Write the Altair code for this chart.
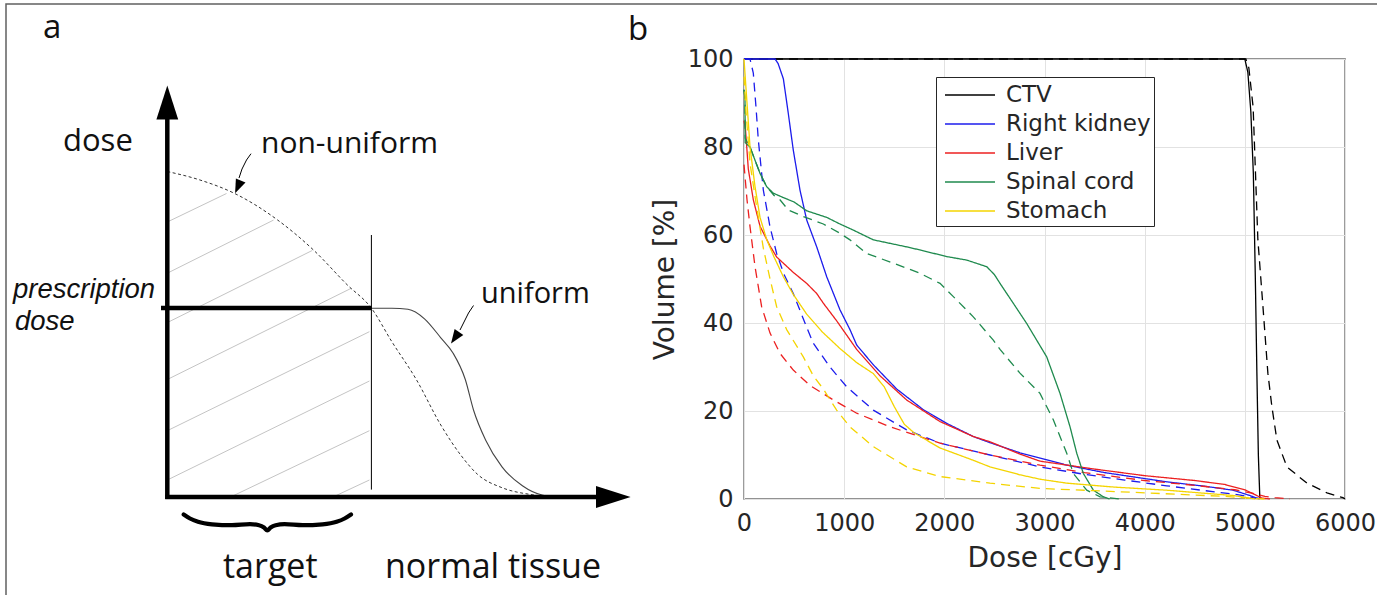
import altair as alt
import pandas as pd

# ---------------- Panel b: dose-volume histograms ----------------
organs = ["CTV", "Right kidney", "Liver", "Spinal cord", "Stomach"]
organ_colors = ["#000000", "#1c1cec", "#ec2020", "#1f8a4e", "#f4d400"]
x_ticks = [0, 1000, 2000, 3000, 4000, 5000, 6000]
y_ticks = [0, 20, 40, 60, 80, 100]

# plan A = solid, plan B = dashed
ctv_a_dose = [0, 5000, 5030, 5060, 5085, 5105, 5120, 5135, 5150]
ctv_a_vol = [100, 100, 97, 88, 74, 50, 29, 10, 0]
ctv_b_dose = [0, 5010, 5040, 5083, 5130, 5180, 5230, 5270, 5320, 5420, 5620, 5820, 5980, 6000]
ctv_b_vol = [100, 100, 98, 89, 59, 44, 28.6, 21, 13.4, 7.3, 3.6, 1.4, 0.3, 0]

kidney_a_dose = [0, 310, 340, 393, 440, 492, 559, 626, 726, 826, 958, 1058, 1125, 1291, 1524, 1790,
                 2023, 2289, 2456, 2755, 2955, 3222, 3600, 4220, 4600, 4882, 5050, 5120, 5150]
kidney_a_vol = [100, 100, 99, 95.5, 88, 79.3, 70.2, 63.4, 57.3, 50.5, 43, 38.5, 35, 30.5, 25, 20.3,
                17.2, 14.2, 12.8, 10.5, 9.3, 7.7, 6, 3.9, 2.9, 2, 0.8, 0.2, 0]
kidney_b_dose = [0, 60, 93, 120, 143, 193, 260, 326, 400, 492, 626, 692, 858, 1025, 1291, 1624, 1957,
                 2456, 2955, 3400, 3800, 4220, 4600, 4955, 5100, 5200]
kidney_b_vol = [100, 100, 96.8, 89, 81.6, 70.2, 61.8, 55.8, 51, 46.7, 39, 35.4, 30, 25.5, 20.2, 15.7,
                12.7, 10, 7.3, 5.6, 4.3, 3, 1.9, 0.9, 0.2, 0]

liver_a_dose = [0, 15, 43, 93, 160, 260, 326, 492, 626, 726, 792, 925, 1125, 1358, 1624, 1957, 2289,
                2456, 2755, 2955, 3500, 4000, 4500, 4800, 5000, 5100, 5170, 5250]
liver_a_vol = [86, 84, 75, 68, 62, 57.5, 55, 51.5, 49, 46.7, 44.5, 40.5, 34, 28, 22.5, 17.6, 14.2,
               13, 10.2, 8.6, 6.8, 5.3, 4.2, 3.3, 2.1, 1, 0.2, 0]
liver_b_dose = [0, 30, 60, 110, 176, 260, 359, 492, 659, 892, 1125, 1458, 1957, 2456, 2955, 3400,
                4000, 4500, 4900, 5100, 5200, 5300, 5450]
liver_b_vol = [76, 68, 61.9, 52.8, 43.7, 37.7, 33.1, 29.3, 25.8, 22.5, 19.5, 16.4, 12.7, 10, 7.7, 6,
               4.2, 3.1, 2.1, 1.2, 0.6, 0.3, 0]

cord_a_dose = [0, 10, 12, 60, 110, 160, 226, 293, 393, 500, 626, 826, 958, 1092, 1291, 1624, 1757,
               2023, 2223, 2423, 2500, 2556, 2688, 2822, 3022, 3155, 3255, 3322, 3388, 3488, 3588, 3650]
cord_a_vol = [93, 91, 81, 80, 77, 74, 71, 69.5, 68.5, 67.5, 65.5, 64, 62.5, 61.1, 58.9, 57.3, 56.6,
              55.1, 54.3, 52.8, 51, 49, 44.5, 39.9, 32.3, 24, 16.4, 10.4, 5.8, 2, 0.5, 0]
cord_b_dose = [0, 10, 12, 60, 110, 160, 226, 300, 359, 442, 592, 792, 958, 1058, 1225, 1491, 1757,
               1957, 2090, 2289, 2489, 2556, 2755, 2955, 3088, 3222, 3288, 3422, 3555, 3750]
cord_b_vol = [93, 91, 82, 80, 77, 74, 71, 69, 68, 65.7, 64.2, 62.5, 60.4, 58.9, 55.8, 53.6, 51.3,
              49, 46, 41.4, 36.1, 34, 28.6, 24, 18, 10.4, 5.8, 2, 0.5, 0]

stomach_a_dose = [0, 30, 60, 110, 160, 226, 300, 393, 492, 626, 780, 958, 1125, 1291, 1400, 1500,
                  1600, 1700, 1957, 2289, 2456, 2755, 2955, 3222, 3700, 4220, 4600, 4882, 5050, 5100]
stomach_a_vol = [100, 90, 80, 71, 64, 59, 55, 50.5, 46.5, 42, 38, 34.2, 31, 28.5, 25.5, 21, 17, 15,
                 11.6, 8.8, 7.3, 5.5, 4.5, 3.6, 2.7, 2, 1.3, 0.8, 0.2, 0]
stomach_b_dose = [0, 20, 60, 126, 193, 260, 326, 426, 592, 692, 792, 925, 1058, 1291, 1624, 1957,
                  2456, 2955, 3500, 4200, 4800, 5100, 5200]
stomach_b_vol = [96, 88, 76.3, 66.4, 57, 50, 43.7, 38.5, 32.3, 28, 25, 20.2, 16.4, 11.9, 7.3, 5.1,
                 3.6, 2.4, 1.9, 1.2, 0.6, 0.1, 0]

curves = [
    ("CTV", "A", ctv_a_dose, ctv_a_vol), ("CTV", "B", ctv_b_dose, ctv_b_vol),
    ("Right kidney", "A", kidney_a_dose, kidney_a_vol), ("Right kidney", "B", kidney_b_dose, kidney_b_vol),
    ("Liver", "A", liver_a_dose, liver_a_vol), ("Liver", "B", liver_b_dose, liver_b_vol),
    ("Spinal cord", "A", cord_a_dose, cord_a_vol), ("Spinal cord", "B", cord_b_dose, cord_b_vol),
    ("Stomach", "A", stomach_a_dose, stomach_a_vol), ("Stomach", "B", stomach_b_dose, stomach_b_vol),
]
rows = []
for organ, plan, ds, vs in curves:
    for i, (d, v) in enumerate(zip(ds, vs)):
        rows.append({"organ": organ, "plan": plan, "dose": d, "volume": v, "i": i})
dvh = pd.DataFrame(rows)

# ---------------- Panel a: schematic (drawing units) ----------------
seg_axes = [
    ("yaxis", [167.3, 167.3], [499, 118]),
    ("xaxis", [165.2, 598], [497, 497]),
    ("presc", [161, 371.4], [308, 308]),
]
seg_boundary = [("bound", [371.4, 371.4], [235, 489.6])]
hatch_x0 = [167.3, 167.3, 167.3, 167.3, 167.3, 167.3, 230.6, 333]
hatch_y0 = [222, 273.2, 322.6, 379.5, 430.7, 480, 497, 497]
hatch_x1 = [226.5, 273.5, 312.2, 351, 369.4, 369.4, 369.4, 369.4]
hatch_y1 = [193.5, 220.1, 250.5, 288.4, 331.7, 381, 430.7, 480]
nonuni_x = [167.3, 200, 234.7, 277.6, 314, 347, 371.4, 391.8, 416.3, 440.8, 461, 477.6, 502, 530.6, 555]
nonuni_y = [171.5, 180, 193.5, 220, 250.5, 284.6, 308.2, 341.6, 379.5, 425, 455.4, 474.4, 487.7, 494.5, 497]
uni_x = [371.4, 391.8, 408, 424.5, 440.8, 453, 465.3, 473.5, 485.7, 502, 522.4, 542.9, 559]
uni_y = [308.2, 308.2, 309.3, 318.8, 337.8, 353, 379.5, 410, 440.2, 466.8, 485.8, 495.3, 497]
arrow_lines = [
    ("arr1", [251, 246.5, 242, 239], [153.7, 160, 169, 178]),
    ("arr2", [473.5, 468.5, 464, 460], [305.5, 313, 322, 330]),
]
brace_x = [183.7, 190, 198, 212, 232, 250, 259, 264, 267.3, 270.6, 275.6, 284.6, 302.6, 322.6, 336.6, 344.6, 351]
brace_y = [514.5, 518.5, 521.8, 524.3, 525.2, 524.2, 525.2, 527.5, 530.5, 527.5, 525.2, 524.2, 525.2, 524.3, 521.8, 518.5, 514.5]
frame_x = [6, 6, 1390]
frame_y = [600, 4, 4]

big_heads_x = [167.3, 613.3]
big_heads_y = [102.5, 497]
big_heads_angle = [0, 90]
big_heads_size = [1163, 1197]
small_heads_x = [237.9, 455]
small_heads_y = [186.9, 337.7]
small_heads_angle = [203.6, 214.6]

text_labels = ["a", "b", "dose", "non-uniform", "uniform", "target", "normal tissue"]
text_x = [43, 628, 63, 261, 481, 223, 385]
text_y = [38, 40, 151, 153, 303, 578, 578]
text_size = [33, 33, 31, 30, 29, 34, 34]
italic_labels = ["prescription", "dose"]
italic_x = [13, 15]
italic_y = [298, 330]


def seg_frame(segs):
    out = []
    for name, xs, ys in segs:
        for i, (x, y) in enumerate(zip(xs, ys)):
            out.append({"seg": name, "x": x, "y": y, "i": i})
    return pd.DataFrame(out)


hatch_segs = [(f"h{k}", [hatch_x0[k], hatch_x1[k]], [hatch_y0[k], hatch_y1[k]]) for k in range(len(hatch_x0))]

XA = alt.X("x:Q", scale=alt.Scale(domain=[0, 1377], range=[-744, 633], nice=False, zero=False), axis=None)
YA = alt.Y("y:Q", scale=alt.Scale(domain=[0, 595], range=[-59, 536], nice=False, zero=False), axis=None)


def seg_layer(segs, color, width, dash=None, interp="linear", cap="butt"):
    kw = dict(color=color, strokeWidth=width, interpolate=interp, strokeCap=cap)
    if dash:
        kw["strokeDash"] = dash
    return alt.Chart(seg_frame(segs)).mark_line(**kw).encode(
        x=XA, y=YA, detail="seg:N", order="i:Q")


frame_layer = seg_layer([("frame", frame_x, frame_y)], "#606060", 1.5)
hatch_layer = seg_layer(hatch_segs, "#c4c4c4", 1)
nonuni_layer = seg_layer([("nonuni", nonuni_x, nonuni_y)], "#333333", 1, dash=[3, 2.5], interp="monotone")
uni_layer = seg_layer([("uni", uni_x, uni_y)], "#444444", 1.1, interp="monotone")
bound_layer = seg_layer(seg_boundary, "#000000", 1)
axes_layer = seg_layer(seg_axes, "#000000", 4.5)
arrow_layer = seg_layer(arrow_lines, "#000000", 1)
brace_layer = seg_layer([("brace", brace_x, brace_y)], "#000000", 4.2, interp="monotone", cap="round")

big_heads = alt.Chart(pd.DataFrame({"x": big_heads_x, "y": big_heads_y, "a": big_heads_angle,
                                    "s": big_heads_size})).mark_point(
    shape="M0,-1L0.64,1L-0.64,1Z", filled=True, color="#000000", opacity=1, strokeWidth=0).encode(
    x=XA, y=YA, angle=alt.Angle("a:Q", scale=None), size=alt.Size("s:Q", scale=None))
small_heads = alt.Chart(pd.DataFrame({"x": small_heads_x, "y": small_heads_y,
                                      "a": small_heads_angle})).mark_point(
    shape="M0,-1L0.75,1L-0.75,1Z", filled=True, color="#000000", opacity=1, strokeWidth=0, size=196).encode(
    x=XA, y=YA, angle=alt.Angle("a:Q", scale=None))

text_layer = alt.Chart(pd.DataFrame({"x": text_x, "y": text_y, "label": text_labels,
                                     "fs": text_size})).mark_text(
    align="left", baseline="alphabetic", font="Open Sans", color="#111111").encode(
    x=XA, y=YA, text="label:N", size=alt.Size("fs:Q", scale=None))
italic_layer = alt.Chart(pd.DataFrame({"x": italic_x, "y": italic_y, "label": italic_labels})).mark_text(
    align="left", baseline="alphabetic", font="Liberation Sans", fontStyle="italic", fontSize=27.5,
    color="#111111").encode(x=XA, y=YA, text="label:N")

panel_a = alt.layer(frame_layer, hatch_layer, nonuni_layer, uni_layer, bound_layer, arrow_layer,
                    small_heads, brace_layer, axes_layer, big_heads, text_layer, italic_layer)

# ---------------- Panel b chart ----------------
FONT_B = "DejaVu Sans"
TXT_B = "#262626"
lines_b = alt.Chart(dvh).mark_line(strokeWidth=1.3).encode(
    x=alt.X("dose:Q", scale=alt.Scale(domain=[0, 6000], nice=False),
            axis=alt.Axis(values=x_ticks, format="d", title="Dose [cGy]", grid=True, gridColor="#e2e2e2",
                          ticks=False, domain=False, labelFlush=False, labelOverlap=False,
                          labelFont=FONT_B, labelFontSize=24, labelColor=TXT_B, labelPadding=12,
                          titleFont=FONT_B, titleFontSize=28, titleColor=TXT_B, titleFontWeight="normal",
                          titleBaseline="middle", titleY=59, titleX=300.5, titleAlign="center")),
    y=alt.Y("volume:Q", scale=alt.Scale(domain=[0, 100], nice=False),
            axis=alt.Axis(values=y_ticks, format="d", title="Volume [%]", grid=True, gridColor="#e2e2e2",
                          ticks=False, domain=False, labelFlush=False, labelOverlap=False,
                          labelFont=FONT_B, labelFontSize=24, labelColor=TXT_B, labelPadding=11,
                          titleFont=FONT_B, titleFontSize=28, titleColor=TXT_B, titleFontWeight="normal",
                          titleBaseline="middle", titleAlign="center", titleX=-79, titleY=220,
                          titleAngle=270)),
    color=alt.Color("organ:N", scale=alt.Scale(domain=organs, range=organ_colors),
                    legend=alt.Legend(title=None, orient="none", legendX=192, legendY=18,
                                      symbolType="M-0.643,0H2.929", symbolSize=784,
                                      symbolStrokeWidth=1.3, labelFont=FONT_B, labelFontSize=23,
                                      labelColor=TXT_B, labelOffset=37, padding=3, rowPadding=2,
                                      strokeColor="#262626", fillColor="white")),
    strokeDash=alt.StrokeDash("plan:N", scale=alt.Scale(domain=["A", "B"], range=[[1, 0], [9, 6]]),
                              legend=None),
    detail="plan:N",
    order="i:Q",
)

chart = alt.layer(panel_a, lines_b).resolve_scale(x="independent", y="independent").properties(
    width=601, height=440,
    padding={"left": 744, "top": 59, "right": 32, "bottom": 96},
    autosize=alt.AutoSizeParams(type="none"),
    background="white",
).configure_view(stroke="#262626", strokeWidth=1.3)

chart.save("out.html", embed_options={"renderer": "svg", "actions": False})
